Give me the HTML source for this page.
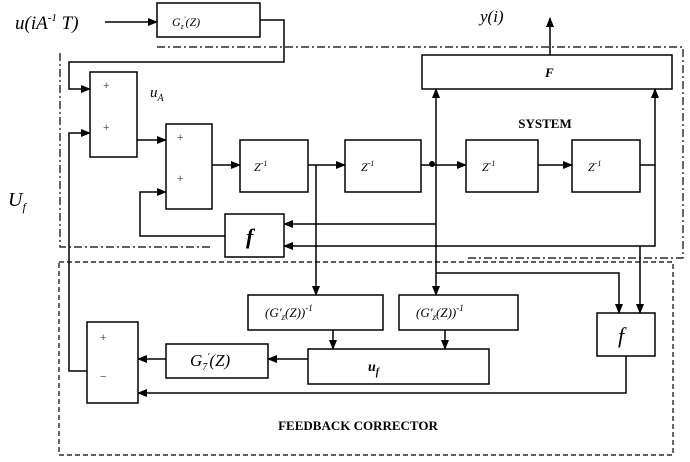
<!DOCTYPE html>
<html><head><style>html,body{margin:0;padding:0;background:#fff}svg{display:block}</style></head><body>
<svg width="690" height="462" viewBox="0 0 690 462" xmlns="http://www.w3.org/2000/svg" font-family="Liberation Serif, serif">
<defs><marker id="a" markerWidth="10" markerHeight="8" refX="9" refY="4" orient="auto" markerUnits="userSpaceOnUse"><path d="M0,0 L10,4 L0,8 z" fill="#000"/></marker></defs>
<g fill="none" stroke="#000" stroke-width="1.5">
<g stroke-dasharray="8,3,2,3" stroke-width="1.2">
<path d="M157,47 H683 V258 H466"/>
<path d="M60,53 V247 H210"/>
</g>
<rect x="59" y="262" width="614" height="193" stroke-dasharray="5,3" stroke-width="1.2"/>
<rect x="157" y="3" width="103" height="34"/>
<rect x="90" y="72" width="47" height="85"/>
<rect x="166" y="124" width="46" height="85"/>
<rect x="240" y="140" width="68" height="52"/>
<rect x="345" y="140" width="76" height="52"/>
<rect x="466" y="140" width="72" height="52"/>
<rect x="572" y="140" width="68" height="52"/>
<rect x="422" y="55" width="250" height="34"/>
<rect x="225" y="214" width="59" height="43"/>
<rect x="248" y="295" width="135" height="35"/>
<rect x="399" y="295" width="119" height="35"/>
<rect x="597" y="313" width="58" height="43"/>
<rect x="308" y="349" width="181" height="35"/>
<rect x="166" y="344" width="102" height="34"/>
<rect x="87" y="322" width="51" height="81"/>
<path d="M105,22 H157" marker-end="url(#a)"/>
<path d="M260,20 H284 V62 H69 V89 H90" marker-end="url(#a)"/>
<path d="M87,371 H69 V133 H90" marker-end="url(#a)"/>
<path d="M137,140 H166" marker-end="url(#a)"/>
<path d="M212,165 H240" marker-end="url(#a)"/>
<path d="M308,165 H345" marker-end="url(#a)"/>
<path d="M421,165 H466" marker-end="url(#a)"/>
<path d="M538,165 H572" marker-end="url(#a)"/>
<path d="M225,236 H140 V192 H166" marker-end="url(#a)"/>
<path d="M316,165 V295" marker-end="url(#a)"/>
<path d="M436,165 V295" marker-end="url(#a)"/>
<path d="M436,165 V89" marker-end="url(#a)"/>
<path d="M550,55 V18" marker-end="url(#a)"/>
<path d="M640,165 H655 V89" marker-end="url(#a)"/>
<path d="M436,224 H284" marker-end="url(#a)"/>
<path d="M655,165 V246 H284" marker-end="url(#a)"/>
<path d="M640,246 V313" marker-end="url(#a)"/>
<path d="M436,273 H619 V313" marker-end="url(#a)"/>
<path d="M333,330 V349" marker-end="url(#a)"/>
<path d="M445,330 V349" marker-end="url(#a)"/>
<path d="M308,359 H268" marker-end="url(#a)"/>
<path d="M166,359 H138" marker-end="url(#a)"/>
<path d="M626,356 V393 H138" marker-end="url(#a)"/>
</g>
<circle cx="432" cy="164" r="3" fill="#000"/>
<g fill="#000" font-style="italic">
<text x="15" y="29" font-size="19">u(iA<tspan font-size="11" dy="-8">-1</tspan><tspan dy="8"> T)</tspan></text>
<text x="172" y="26" font-size="12">G<tspan font-size="8" dy="3">z</tspan><tspan font-size="8" dy="-7">'</tspan><tspan dy="4">(Z)</tspan></text>
<text x="150" y="97" font-size="15">u<tspan font-size="10" dy="4">A</tspan></text>
<text x="8" y="206" font-size="20">U<tspan font-size="12" dy="5">f</tspan></text>
<text x="480" y="22" font-size="17">y(i)</text>
<text x="545" y="77" font-size="13" font-weight="bold">F</text>
<text x="254" y="171" font-size="12">Z<tspan font-size="8" dy="-5">-1</tspan></text>
<text x="361" y="171" font-size="12">Z<tspan font-size="8" dy="-5">-1</tspan></text>
<text x="482" y="171" font-size="12">Z<tspan font-size="8" dy="-5">-1</tspan></text>
<text x="588" y="171" font-size="12">Z<tspan font-size="8" dy="-5">-1</tspan></text>
<text x="246" y="244" font-size="22" font-weight="bold">f</text>
<text x="618" y="343" font-size="22">f</text>
<text x="265" y="317" font-size="13">(G'<tspan font-size="9" dy="3">z</tspan><tspan dy="-3">(Z))</tspan><tspan font-size="9" dy="-6">-1</tspan></text>
<text x="416" y="317" font-size="13">(G'<tspan font-size="9" dy="3">z</tspan><tspan dy="-3">(Z))</tspan><tspan font-size="9" dy="-6">-1</tspan></text>
<text x="368" y="371" font-size="14" font-weight="bold">u<tspan font-size="10" dy="4">f</tspan></text>
<text x="190" y="366" font-size="17">G<tspan font-size="10" dy="4">7</tspan><tspan font-size="10" dy="-10">'</tspan><tspan dy="6">(Z)</tspan></text>
</g>
<g fill="#555" font-size="11" font-family="Liberation Sans, sans-serif">
<text x="103" y="89">+</text><text x="103" y="131">+</text>
<text x="177" y="141">+</text><text x="177" y="182">+</text>
<text x="100" y="341">+</text><text x="100" y="380">−</text>
</g>
<g fill="#000" font-weight="bold" font-size="13" text-anchor="middle">
<text x="545" y="128">SYSTEM</text>
<text x="358" y="430">FEEDBACK CORRECTOR</text>
</g>
</svg>
</body></html>
